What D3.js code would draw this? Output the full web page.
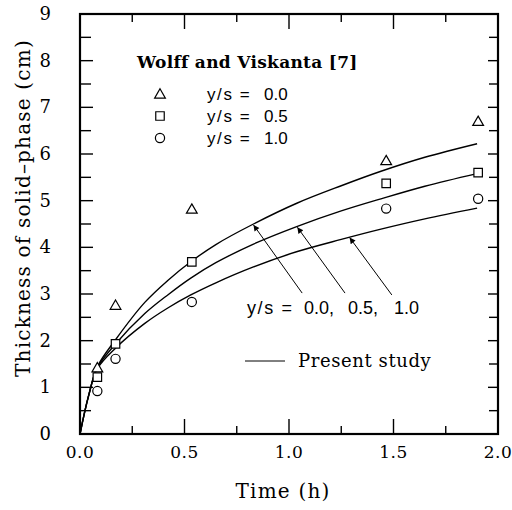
<!DOCTYPE html>
<html>
<head>
<meta charset="utf-8">
<script src="https://cdn.jsdelivr.net/npm/d3@7"></script>
<style>
  body { margin: 0; background: #fff; }
  svg { display: block; }
  .serif { font-family: "DejaVu Serif", serif; }
  .sans { font-family: "Liberation Sans", Arial, sans-serif; }
</style>
</head>
<body>
<div id="chart"></div>
<script>
// 實驗數據 (Wolff and Viskanta [7])
const expTime = [0.083, 0.17, 0.535, 1.465, 1.905];
const expY00 = [1.42, 2.76, 4.82, 5.86, 6.70];   // triangle
const expY05 = [1.22, 1.93, 3.69, 5.37, 5.60];   // square
const expY10 = [0.92, 1.61, 2.83, 4.83, 5.04];   // circle

// 本研究曲線 (Present study)
const curveTime = [0, 0.04, 0.083, 0.17, 0.31, 0.42, 0.53, 0.65, 0.83, 1.04, 1.25, 1.44, 1.65, 1.90];
const curveY00  = [0, 0.80, 1.44, 2.02, 2.82, 3.29, 3.69, 4.06, 4.50, 4.95, 5.32, 5.63, 5.93, 6.22];
const curveY05  = [0, 0.80, 1.42, 1.93, 2.58, 2.98, 3.34, 3.67, 4.07, 4.45, 4.78, 5.04, 5.31, 5.58];
const curveY10  = [0, 0.80, 1.40, 1.84, 2.37, 2.70, 2.98, 3.24, 3.58, 3.91, 4.17, 4.39, 4.61, 4.84];

// 箭頭 (tail -> tip), data units
const arrowTail = [[1.063, 3.02], [1.268, 3.02], [1.492, 2.98]];
const arrowTip  = [[0.83, 4.48], [1.04, 4.43], [1.29, 4.21]];

const xTicks = [0, 0.5, 1.0, 1.5, 2.0];
const yTicks = [0, 1, 2, 3, 4, 5, 6, 7, 8, 9];
const legendLabels = ["0.0", "0.5", "1.0"];

const margin = {top: 14, right: 14, bottom: 76, left: 80};
const W = 512, H = 510;
const width = W - margin.left - margin.right;
const height = H - margin.top - margin.bottom;

const svg = d3.select("#chart").append("svg")
    .attr("width", W).attr("height", H);

svg.append("defs").append("marker")
    .attr("id", "arrow")
    .attr("viewBox", "0 0 10 10")
    .attr("refX", 10).attr("refY", 5)
    .attr("markerWidth", 10).attr("markerHeight", 6)
    .attr("markerUnits", "userSpaceOnUse")
    .attr("orient", "auto")
    .append("path").attr("d", "M0,0 L10,5 L0,10 z").attr("fill", "#000");

const x = d3.scaleLinear().domain([0, 2]).range([margin.left, margin.left + width]);
const y = d3.scaleLinear().domain([0, 9]).range([margin.top + height, margin.top]);
const [x0, x1] = x.range();
const [y0, y1] = y.range();

// 外框
svg.append("rect")
    .attr("x", x0).attr("y", y1).attr("width", width).attr("height", height)
    .attr("fill", "none").attr("stroke", "#000").attr("stroke-width", 2.2);

// 刻度 (朝內, 四邊)
const xMinor = [0.25, 0.75, 1.25, 1.75];
const yMinor = [0.5, 1.5, 2.5, 3.5, 4.5, 5.5, 6.5, 7.5, 8.5];
const xMajor = xTicks.slice(1, -1);
const yMajor = yTicks.slice(1, -1);

const tickData = [];
xMajor.forEach(v => { tickData.push([x(v), y0, x(v), y0 - 15]); tickData.push([x(v), y1, x(v), y1 + 15]); });
xMinor.forEach(v => { tickData.push([x(v), y0, x(v), y0 - 8]); tickData.push([x(v), y1, x(v), y1 + 8]); });
yMajor.forEach(v => { tickData.push([x0, y(v), x0 + 13, y(v)]); tickData.push([x1, y(v), x1 - 10, y(v)]); });
yMinor.forEach(v => { tickData.push([x0, y(v), x0 + 11, y(v)]); tickData.push([x1, y(v), x1 - 9, y(v)]); });

svg.selectAll(".tk").data(tickData).enter().append("line")
    .attr("class", "tk")
    .attr("x1", d => d[0]).attr("y1", d => d[1])
    .attr("x2", d => d[2]).attr("y2", d => d[3])
    .attr("stroke", "#000").attr("stroke-width", 1.4);

// 刻度文字
svg.selectAll(".xlab").data(xTicks).enter().append("text")
    .attr("class", "serif xlab")
    .attr("x", d => x(d)).attr("y", y0 + 24)
    .attr("text-anchor", "middle")
    .attr("font-size", 17).attr("letter-spacing", 0.5)
    .text(d => d3.format(".1f")(d));
svg.selectAll(".ylab").data(yTicks).enter().append("text")
    .attr("class", "serif ylab")
    .attr("x", x0 - 29).attr("y", d => y(d) + 6)
    .attr("text-anchor", "end")
    .attr("font-size", 18)
    .text(d => d3.format("d")(d));

// 曲線
const line = d3.line().x(d => x(d[0])).y(d => y(d[1])).curve(d3.curveCatmullRom.alpha(0.5));
const curves = [
    d3.zip(curveTime, curveY00),
    d3.zip(curveTime, curveY05),
    d3.zip(curveTime, curveY10)
];
svg.selectAll(".curve").data(curves).enter().append("path")
    .attr("class", "curve")
    .attr("d", line)
    .attr("fill", "none").attr("stroke", "#000").attr("stroke-width", 1.4);

// 箭頭
svg.selectAll(".arrow").data(d3.zip(arrowTail, arrowTip)).enter().append("line")
    .attr("class", "arrow")
    .attr("x1", d => x(d[0][0])).attr("y1", d => y(d[0][1]))
    .attr("x2", d => x(d[1][0])).attr("y2", d => y(d[1][1]))
    .attr("stroke", "#000").attr("stroke-width", 1)
    .attr("marker-end", "url(#arrow)");

// 實驗點
const triPath = d3.symbol().type(d3.symbolTriangle).size(50);
const sqPath = d3.symbol().type(d3.symbolSquare).size(72);

svg.selectAll(".tri").data(d3.zip(expTime, expY00)).enter().append("path")
    .attr("class", "tri")
    .attr("transform", d => `translate(${x(d[0])},${y(d[1]) + 1})`)
    .attr("d", triPath)
    .attr("fill", "#fff").attr("stroke", "#000").attr("stroke-width", 1.2);
svg.selectAll(".sq").data(d3.zip(expTime, expY05)).enter().append("path")
    .attr("class", "sq")
    .attr("transform", d => `translate(${x(d[0])},${y(d[1])})`)
    .attr("d", sqPath)
    .attr("fill", "#fff").attr("stroke", "#000").attr("stroke-width", 1.2);
svg.selectAll(".circ").data(d3.zip(expTime, expY10)).enter().append("circle")
    .attr("class", "circ")
    .attr("cx", d => x(d[0])).attr("cy", d => y(d[1])).attr("r", 4.6)
    .attr("fill", "#fff").attr("stroke", "#000").attr("stroke-width", 1.2);

// 圖例
svg.append("text").attr("class", "serif")
    .attr("x", 137).attr("y", 68)
    .attr("font-size", 17).attr("font-weight", "bold").attr("letter-spacing", 0.3)
    .text("Wolff and Viskanta [7]");

const legendY = [100, 122, 144];
const legendSym = ["tri", "sq", "circ"];
legendY.forEach((ly, i) => {
    const cx = 160, cy = ly - 6;
    if (legendSym[i] === "tri") {
        svg.append("path").attr("transform", `translate(${cx},${cy + 1})`).attr("d", triPath)
            .attr("fill", "none").attr("stroke", "#000").attr("stroke-width", 1.2);
    } else if (legendSym[i] === "sq") {
        svg.append("path").attr("transform", `translate(${cx},${cy})`).attr("d", sqPath)
            .attr("fill", "none").attr("stroke", "#000").attr("stroke-width", 1.2);
    } else {
        svg.append("circle").attr("cx", cx).attr("cy", cy).attr("r", 4.6)
            .attr("fill", "none").attr("stroke", "#000").attr("stroke-width", 1.2);
    }
    const t = svg.append("text").attr("class", "sans").attr("font-size", 17).attr("y", ly);
    t.append("tspan").attr("x", 207).attr("letter-spacing", 1.6).text("y/s =");
    t.append("tspan").attr("x", 264).text(legendLabels[i]);
});

// 曲線標籤
const ann = svg.append("text").attr("class", "sans").attr("font-size", 18).attr("y", 314);
ann.append("tspan").attr("x", 247).attr("letter-spacing", 1.6).text("y/s =");
ann.append("tspan").attr("x", 304).text("0.0,");
ann.append("tspan").attr("x", 348).text("0.5,");
ann.append("tspan").attr("x", 394).text("1.0");

svg.append("line").attr("x1", 245).attr("x2", 285).attr("y1", 361).attr("y2", 361)
    .attr("stroke", "#000").attr("stroke-width", 1);
svg.append("text").attr("class", "serif").attr("font-size", 18)
    .attr("letter-spacing", 0.6)
    .attr("x", 298).attr("y", 367).text("Present study");

// 軸標題
svg.append("text").attr("class", "serif").attr("font-size", 20)
    .attr("letter-spacing", 1.2)
    .attr("text-anchor", "middle")
    .attr("x", margin.left + width / 2 - 6).attr("y", 498)
    .text("Time (h)");
svg.append("text").attr("class", "serif").attr("font-size", 20)
    .attr("letter-spacing", 1.2)
    .attr("text-anchor", "middle")
    .attr("transform", "translate(30,208) rotate(-90)")
    .text("Thickness of solid\u2013phase (cm)");
</script>
</body>
</html>
